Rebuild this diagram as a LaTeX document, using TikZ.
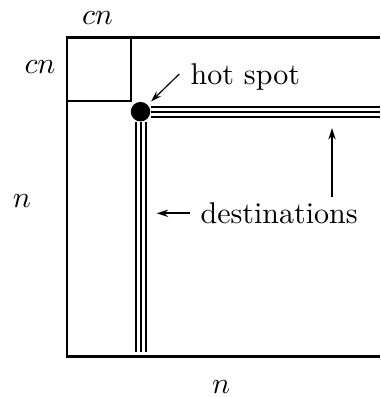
\documentclass[tikz,border=0pt]{standalone}
\usetikzlibrary{arrows.meta}
\begin{document}
\begin{tikzpicture}[x=0.3333pt,y=-0.3333pt,
  frame/.style={line width=0.8pt},
  track/.style={line width=0.85pt},
  pointer/.style={line width=0.38pt,-{Stealth[length=3.6pt,width=2.3pt]}},
  bigpointer/.style={line width=0.8pt,-{Stealth[length=3.8pt,width=2.4pt]}},
  lbl/.style={inner sep=0pt,anchor=base west},
  dim/.style={inner sep=0pt,anchor=base}]
\useasboundingbox (0,0) rectangle (380,397);

% matrix outline (open on the right) and the cn x cn block
\draw[frame] (380,37.5) -- (66.7,37.5) -- (66.7,356.5) -- (380,356.5);
\draw[frame] (66.7,101) -| (131,37.5);

% hot spot
\node[circle,fill,inner sep=0pt,minimum size=6.5pt] (hs) at (140.5,111.7) {};

% row and column of destinations
\foreach \y in {107,112,117}
  \draw[track] (150.5,\y) -- (380,\y);
\foreach \x in {136,141,146}
  \draw[track] (\x,122.5) -- (\x,352);

% labels
\node[lbl] (hot) at (190,85) {hot spot};
\node[lbl] (dest) at (200,223.3) {destinations};
\node[dim] (cntop) at (97.5,25) {$cn$};
\node[dim] (cnleft) at (40,74) {$cn$};
\node[dim] (nleft) at (22,208) {$n$};
\node[dim] (nbottom) at (221,393) {$n$};

% pointers
\coordinate (hstail) at (179.3,74);
\draw[pointer] (hstail) -- (hs) [shorten >=1.5pt];
\coordinate (dtail) at (190,213.3);
\coordinate (dtip) at (156.7,213.3);
\draw[bigpointer] (dtail) -- (dtip);
\coordinate (utail) at (332,197);
\coordinate (utip) at (332,128);
\draw[bigpointer] (utail) -- (utip);
\end{tikzpicture}
\end{document}
